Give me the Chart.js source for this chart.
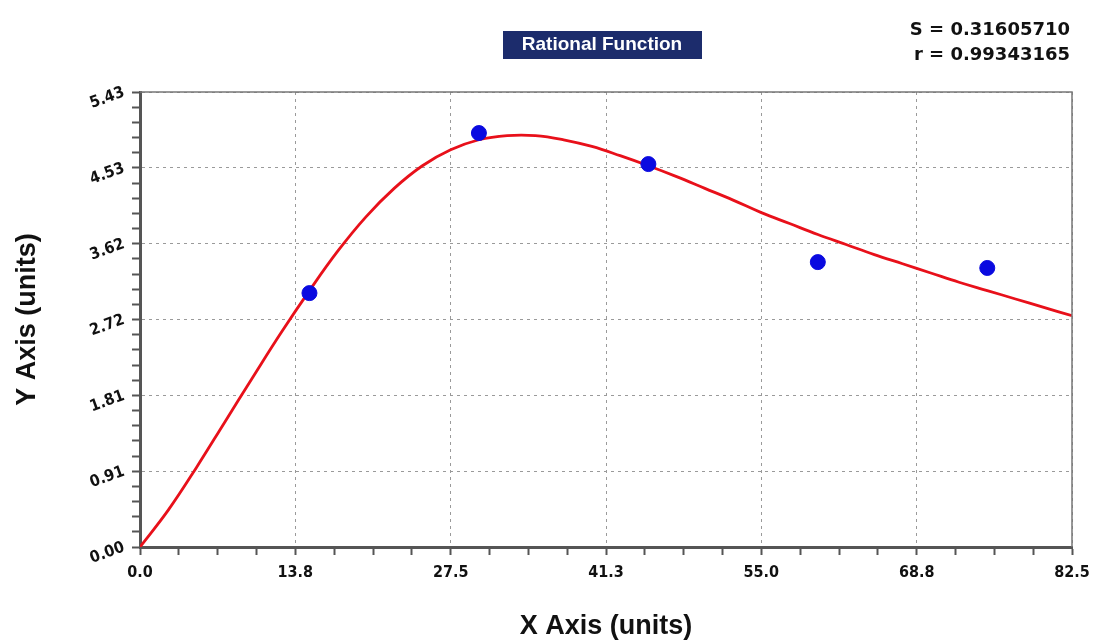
<!DOCTYPE html>
<html>
<head>
<meta charset="utf-8">
<script src="https://cdn.jsdelivr.net/npm/chart.js@4"></script>
<style>
  html, body { margin: 0; padding: 0; background: #fff; }
  #wrap { width: 1093px; height: 643px; }
</style>
</head>
<body>
<div id="wrap"><canvas id="chart" width="1093" height="643"></canvas></div>
<script>
// measured points
const dataX = [15, 30, 45, 60, 75];
const dataY = [3.03, 4.94, 4.57, 3.40, 3.33];

// fitted curve
const curveX = [0, 2.5, 5, 7.5, 10, 12.5, 15, 17.5, 20, 22.5, 25, 27.5, 30, 32.5, 35, 37.5, 40,
                42.5, 45, 47.5, 50, 52.5, 55, 57.5, 60, 62.5, 65, 67.5, 70, 72.5, 75, 77.5, 80, 82.5];
const curveY = [0, 0.44, 0.95, 1.49, 2.03, 2.56, 3.06, 3.53, 3.94, 4.28, 4.55, 4.74, 4.86, 4.91, 4.91,
                4.86, 4.78, 4.67, 4.55, 4.42, 4.28, 4.14, 3.99, 3.86, 3.73, 3.61, 3.49, 3.38, 3.27, 3.16,
                3.06, 2.96, 2.86, 2.76];

// tick labels
const xTickLabels = ['0.0', '13.8', '27.5', '41.3', '55.0', '68.8', '82.5'];
const yTickLabels = ['0.00', '0.91', '1.81', '2.72', '3.62', '4.53', '5.43'];
const xMax = 82.5;
const yMax = 5.43;

const chartTitle = 'Rational Function';
const statLines = ['S = 0.31605710', 'r = 0.99343165'];

const tickFont = { family: "'Liberation Sans Narrow', 'DejaVu Sans Condensed', sans-serif", size: 16, weight: 'bold' };
const axisTitleFont = { family: "'Liberation Sans', Arial, sans-serif", size: 27, weight: 'bold' };

// major ticks + minor ticks (minors only get a tick mark)
function buildTicks(max, nMajor, minorPer) {
    const ticks = [];
    const step = max / (nMajor - 1);
    for (let i = 0; i < nMajor; i++) {
        ticks.push({ value: step * i, m: true, idx: i });
        if (i < nMajor - 1) {
            for (let k = 1; k < minorPer; k++) {
                ticks.push({ value: step * i + step * k / minorPer, m: false });
            }
        }
    }
    return ticks;
}

function isMajor(ctx) {
    return ctx.tick && ctx.tick.m;
}

// title box, statistics and frame
const decoPlugin = {
    id: 'deco',
    beforeDraw(chart) {
        const c = chart.ctx;
        c.save();
        c.fillStyle = '#fff';
        c.fillRect(0, 0, chart.width, chart.height);
        c.restore();
    },
    afterDraw(chart) {
        const c = chart.ctx;
        const a = chart.chartArea;
        c.save();
        // frame top/right
        c.strokeStyle = '#777';
        c.lineWidth = 1.5;
        c.beginPath();
        c.moveTo(a.left, a.top);
        c.lineTo(a.right, a.top);
        c.lineTo(a.right, a.bottom);
        c.stroke();

        // title box
        c.fillStyle = '#1c2c6c';
        c.fillRect(503, 31, 199, 28);
        c.fillStyle = '#fff';
        c.font = "bold 19px 'Liberation Sans', 'DejaVu Sans', sans-serif";
        c.textAlign = 'center';
        c.textBaseline = 'middle';
        c.fillText(chartTitle, 602, 45, 192);

        // stats
        c.fillStyle = '#111';
        c.font = "bold 18px 'DejaVu Sans', sans-serif";
        c.textAlign = 'right';
        c.fillText(statLines[0], 1070, 30);
        c.fillText(statLines[1], 1070, 55);
        c.restore();
    }
};

const ctx = document.getElementById('chart').getContext('2d');
new Chart(ctx, {
    type: 'scatter',
    data: {
        datasets: [
            {
                label: 'Fit',
                type: 'line',
                data: curveX.map((x, i) => ({ x: x, y: curveY[i] })),
                borderColor: '#e8101a',
                borderWidth: 2.8,
                pointRadius: 0,
                fill: false,
                tension: 0.4,
                order: 2
            },
            {
                label: 'Data',
                data: dataX.map((x, i) => ({ x: x, y: dataY[i] })),
                backgroundColor: '#0a0ae0',
                borderColor: '#0a0ae0',
                pointRadius: 7.5,
                showLine: false,
                order: 1
            }
        ]
    },
    options: {
        responsive: false,
        animation: false,
        layout: { padding: { top: 92, right: 21, left: 0, bottom: 0 } },
        plugins: {
            legend: { display: false },
            tooltip: { enabled: false }
        },
        scales: {
            x: {
                type: 'linear',
                min: 0,
                max: xMax,
                afterBuildTicks: s => { s.ticks = buildTicks(xMax, xTickLabels.length, 4); },
                afterFit: s => { s.height = 96; s.paddingLeft = 0; s.paddingRight = 0; },
                ticks: {
                    autoSkip: false,
                    maxRotation: 0,
                    padding: 8,
                    color: '#111',
                    font: tickFont,
                    callback: (v, i, t) => t[i].m ? xTickLabels[t[i].idx] : ''
                },
                grid: {
                    color: c => isMajor(c) ? '#9a9a9a' : 'rgba(0,0,0,0)',
                    lineWidth: 1,
                    tickColor: '#555',
                    tickWidth: 2,
                    tickLength: 8
                },
                border: { color: '#555', width: 3, dash: [3, 4] },
                title: {
                    display: true,
                    text: 'X Axis (units)',
                    color: '#111',
                    font: axisTitleFont,
                    padding: { top: 0, bottom: 0 }
                }
            },
            y: {
                type: 'linear',
                min: 0,
                max: yMax,
                afterBuildTicks: s => { s.ticks = buildTicks(yMax, yTickLabels.length, 5); },
                afterFit: s => { s.width = 140; s.paddingTop = 0; s.paddingBottom = 0; },
                ticks: {
                    autoSkip: false,
                    minRotation: 20,
                    maxRotation: 20,
                    padding: 8,
                    color: '#111',
                    font: tickFont,
                    callback: (v, i, t) => t[i].m ? yTickLabels[t[i].idx] : ''
                },
                grid: {
                    color: c => isMajor(c) ? '#9a9a9a' : 'rgba(0,0,0,0)',
                    lineWidth: 1,
                    tickColor: '#555',
                    tickWidth: 2,
                    tickLength: 8
                },
                border: { color: '#555', width: 3, dash: [3, 4] },
                title: {
                    display: true,
                    text: 'Y Axis (units)',
                    color: '#111',
                    font: axisTitleFont,
                    padding: { top: 11, bottom: 0 }
                }
            }
        }
    },
    plugins: [decoPlugin]
});
</script>
</body>
</html>
